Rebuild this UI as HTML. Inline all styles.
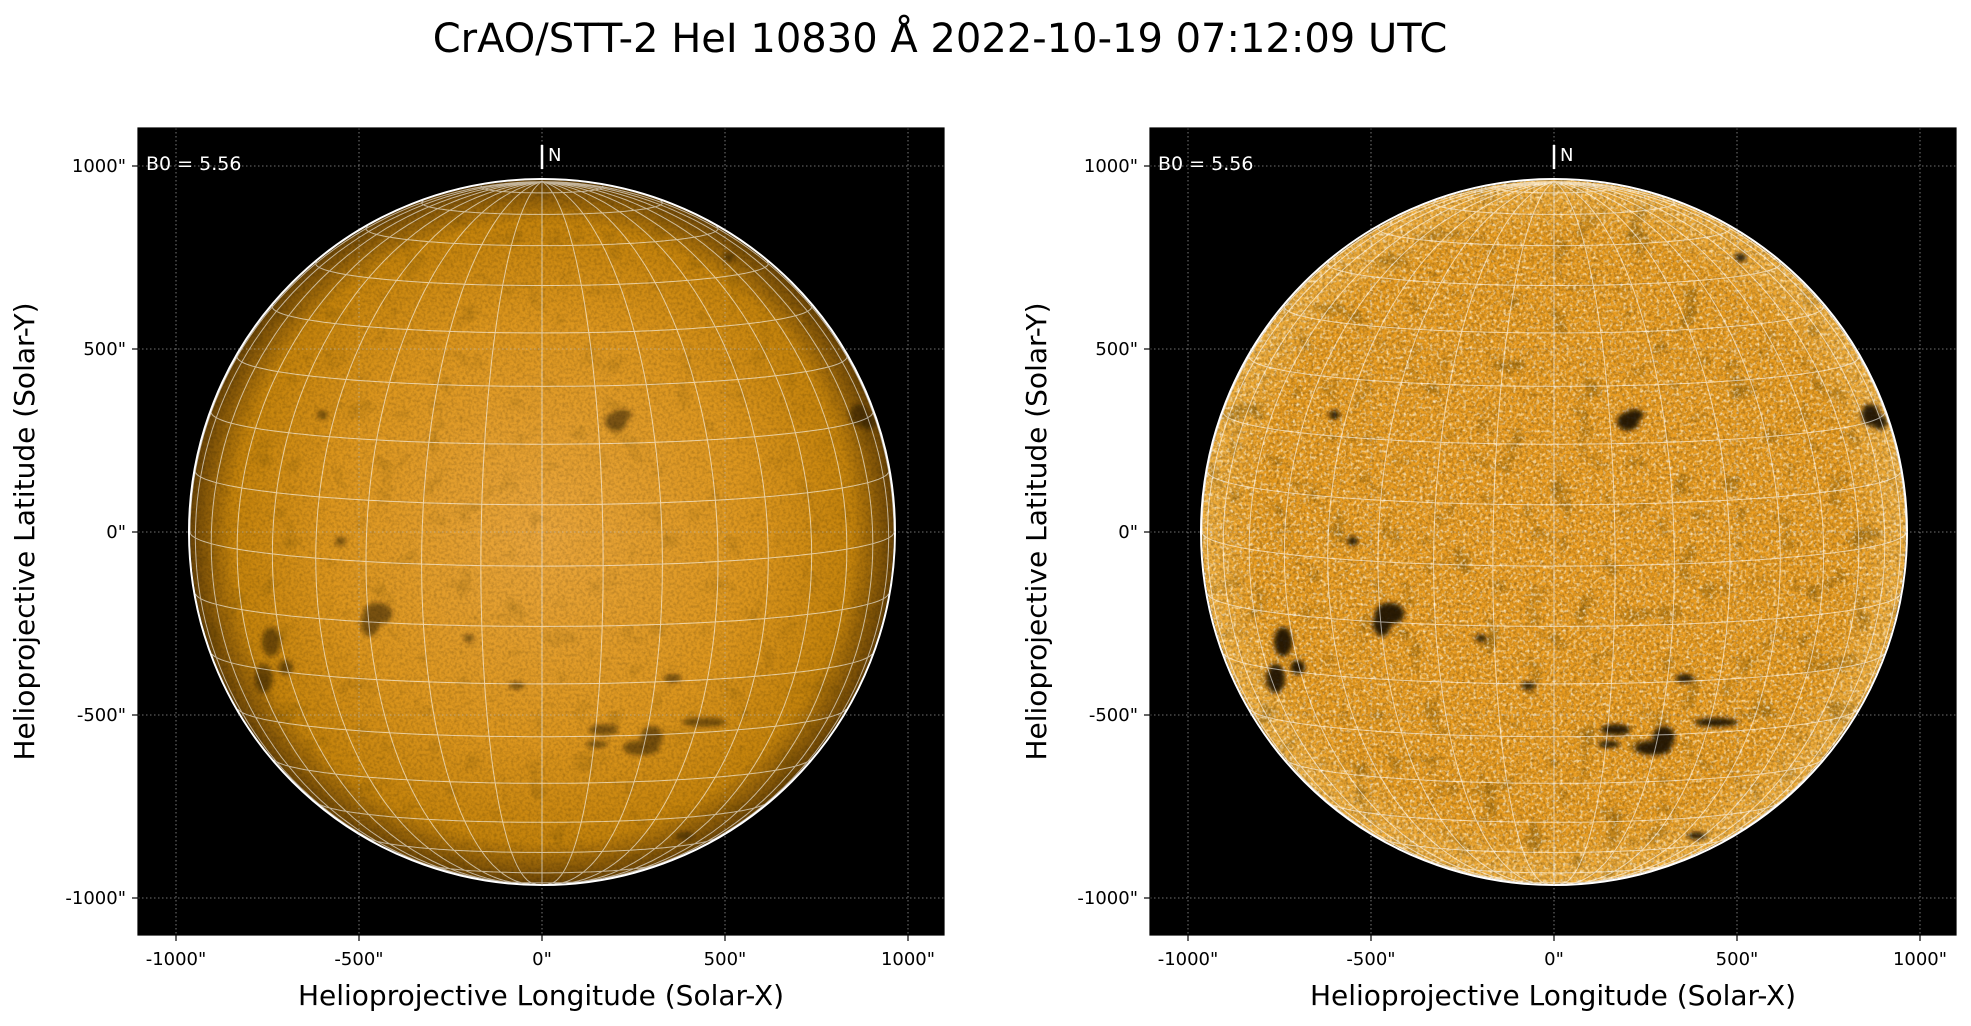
<!DOCTYPE html>
<html><head><meta charset="utf-8"><style>
html,body{margin:0;padding:0;background:#fff;}
svg{display:block;font-family:"DejaVu Sans","Liberation Sans",sans-serif;}
</style></head><body>
<svg id="s" width="1971" height="1026" viewBox="0 0 1971 1026" xmlns="http://www.w3.org/2000/svg">
<defs>
<radialGradient id="g1" cx="0.5" cy="0.5" r="0.5">
<stop offset="0" stop-color="#eaa63c"/><stop offset="0.6" stop-color="#dc961e"/><stop offset="0.88" stop-color="#c4830c"/><stop offset="1" stop-color="#6a4406"/>
</radialGradient>
<radialGradient id="g2" cx="0.5" cy="0.5" r="0.5">
<stop offset="0" stop-color="#ec9e22"/><stop offset="0.85" stop-color="#e89c20"/><stop offset="1" stop-color="#f0b040"/>
</radialGradient>
<filter id="n1" x="0" y="0" width="100%" height="100%">
<feTurbulence type="fractalNoise" baseFrequency="0.35" numOctaves="2" seed="3"/>
<feColorMatrix values="0 0 0 0 0  0 0 0 0 0  0 0 0 0 0  0 0 0 -1.2 0.75"/>
</filter>
<filter id="n2" x="0" y="0" width="100%" height="100%">
<feTurbulence type="fractalNoise" baseFrequency="0.3" numOctaves="2" seed="7"/>
<feColorMatrix values="0 0 0 0 1  0 0 0 0 0.95  0 0 0 0 0.8  0 0 0 2.4 -1.2"/>
</filter>
<filter id="n3" x="0" y="0" width="100%" height="100%">
<feTurbulence type="fractalNoise" baseFrequency="0.04" numOctaves="3" seed="11"/>
<feColorMatrix values="0 0 0 0 0.1  0 0 0 0 0.05  0 0 0 0 0  0 0 0 -3 1.2"/>
</filter>
<filter id="bl"><feGaussianBlur stdDeviation="2.5"/></filter>
<clipPath id="c1"><circle cx="542" cy="532" r="352"/></clipPath>
<clipPath id="c2"><circle cx="1554" cy="532" r="352"/></clipPath>
</defs>
<text x="940" y="52" font-size="40" text-anchor="middle">CrAO/STT-2 HeI 10830 Å 2022-10-19 07:12:09 UTC</text>
<g id="root"></g>
</svg>
<script>
const NS="http://www.w3.org/2000/svg",root=document.getElementById('root');
function el(t,a,p){const e=document.createElementNS(NS,t);for(const k in a)e.setAttribute(k,a[k]);(p||root).appendChild(e);return e;}
function txt(x,y,s,a){const e=el('text',Object.assign({x,y},a));e.textContent=s;return e;}
const B0=5.56*Math.PI/180;
function panel(ax,cx,k){
 const ay=128,w=806,h=807,cy=532,r=352,sc=0.366;
 el('rect',{x:ax,y:ay,width:w,height:h,fill:'#000'});
 const g=el('g',{'clip-path':`url(#c${k})`});
 el('circle',{cx,cy,r,fill:`url(#g${k})`},g);
 el('rect',{x:cx-r,y:cy-r,width:2*r,height:2*r,filter:'url(#n1)',opacity:k==1?0.3:0.5},g);
 el('rect',{x:cx-r,y:cy-r,width:2*r,height:2*r,filter:'url(#n3)',opacity:k==1?0.25:0.5},g);
 if(k==2)el('rect',{x:cx-r,y:cy-r,width:2*r,height:2*r,filter:'url(#n2)',opacity:0.85},g);
 const spots=[[-449,-223,40,30],[-470,-250,25,35],[202,302,30,25],[-740,-300,25,40],[-760,-400,25,40],[-700,-370,20,20],
 [168,-540,40,15],[271,-590,50,20],[443,-520,60,12],[300,-560,30,30],[357,-400,25,12],[865,320,25,30],[890,300,20,20],
 [510,750,15,12],[220,320,25,15],[-600,320,15,12],[-70,-420,20,10],[-550,-25,15,12],[390,-830,25,10],[-200,-290,15,10],[150,-580,30,10]];
 const gs=el('g',{filter:'url(#bl)',opacity:k==1?0.5:0.9},g);
 for(const s of spots){el('ellipse',{cx:cx+s[0]*sc,cy:cy-s[1]*sc,rx:s[2]*sc,ry:s[3]*sc,fill:'#140a00'},gs);}
 let d='';
 function proj(lat,lon){const x=Math.cos(lat)*Math.sin(lon),y=Math.sin(lat),z=Math.cos(lat)*Math.cos(lon);
  const y2=y*Math.cos(B0)-z*Math.sin(B0),z2=y*Math.sin(B0)+z*Math.cos(B0);return [cx+x*r,cy-y2*r,z2];}
 for(let lon=-90;lon<=90;lon+=10){let pen=false;for(let lat=-90;lat<=90;lat+=2){const p=proj(lat*Math.PI/180,lon*Math.PI/180);if(p[2]>=0){d+=(pen?'L':'M')+p[0].toFixed(1)+' '+p[1].toFixed(1);pen=true}else pen=false;}}
 for(let lat=-80;lat<=80;lat+=10){let pen=false;for(let lon=-100;lon<=100;lon+=2){const p=proj(lat*Math.PI/180,lon*Math.PI/180);if(p[2]>=0){d+=(pen?'L':'M')+p[0].toFixed(1)+' '+p[1].toFixed(1);pen=true}else pen=false;}}
 el('path',{d,fill:'none',stroke:'#fff','stroke-width':1,opacity:0.6});
 el('circle',{cx,cy,r:r+1,fill:'none',stroke:'#fff','stroke-width':2});
 for(let v=-1000;v<=1000;v+=500){
  el('line',{x1:cx+v*sc,x2:cx+v*sc,y1:ay,y2:ay+h,stroke:'#bbb','stroke-width':0.8,'stroke-dasharray':'1.5 2.5',opacity:0.8});
  el('line',{y1:cy-v*sc,y2:cy-v*sc,x1:ax,x2:ax+w,stroke:'#bbb','stroke-width':0.8,'stroke-dasharray':'1.5 2.5',opacity:0.8});
  el('line',{x1:cx+v*sc,x2:cx+v*sc,y1:ay+h,y2:ay+h+6,stroke:'#000','stroke-width':1.2});
  el('line',{y1:cy-v*sc,y2:cy-v*sc,x1:ax-6,x2:ax,stroke:'#000','stroke-width':1.2});
  txt(cx+v*sc,ay+h+30,v+'"',{'font-size':18,'text-anchor':'middle'});
  txt(ax-12,cy-v*sc+6,v+'"',{'font-size':18,'text-anchor':'end'});
 }
 el('rect',{x:ax,y:ay,width:w,height:h,fill:'none',stroke:'#000','stroke-width':1.2});
 txt(ax+8,ay+42,'B0 = 5.56',{'font-size':19,fill:'#fff'});
 el('line',{x1:cx,x2:cx,y1:ay+17,y2:ay+41,stroke:'#fff','stroke-width':2.5});
 txt(cx+6,ay+33,'N',{'font-size':18,fill:'#fff'});
 txt(ax+w/2,ay+h+70,'Helioprojective Longitude (Solar-X)',{'font-size':28,'text-anchor':'middle'});
 txt(0,0,'Helioprojective Latitude (Solar-Y)',{'font-size':28,'text-anchor':'middle',transform:`translate(${ax-104},${ay+h/2}) rotate(-90)`});
}
panel(138,542,1);
panel(1150,1554,2);
</script>
</body></html>
